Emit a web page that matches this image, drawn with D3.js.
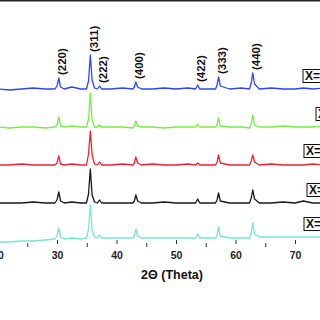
<!DOCTYPE html>
<html>
<head>
<meta charset="utf-8">
<script src="https://cdn.jsdelivr.net/npm/d3@7"></script>
<style>
  body { margin: 0; background: #fff; }
  svg { display: block; overflow: hidden; font-family: "Liberation Sans", Arial, sans-serif; }
</style>
</head>
<body>
<svg id="chart" width="320" height="320"></svg>
<script>
// 2-theta sample positions (degrees)
const twoTheta = [
  20, 22, 24, 26, 28, 29.65, 30.0, 30.3, 30.6, 31.2,
  32.5, 34, 34.95, 35.3, 35.6, 35.9, 36.3, 36.8, 37.15, 37.5,
  39, 41, 42.75, 43.0, 43.25, 43.55, 44.2, 46, 48, 50,
  52, 53.3, 53.65, 54.0, 55.5, 56.65, 56.9, 57.15, 57.45, 59,
  61, 62.35, 62.65, 62.9, 63.2, 64, 66, 68, 70, 71.4,
  73, 75, 77, 80
];

// intensities (a.u., stacked with offsets as in the figure), bottom to top
const sampleX0 = [
  2, 2, 3, 3, 4, 5, 8, 16, 7, 5,
  6, 5, 6, 15, 39, 14, 7, 6, 9, 6,
  6, 6, 6, 8, 15, 8, 6, 6, 6, 6,
  6, 6, 10, 6, 6, 6, 9, 17, 8, 6,
  6, 6, 11, 21, 10, 7, 7, 7, 7, 7,
  7, 7, 7, 7
];
const sampleX1 = [
  41, 41, 41, 42, 41, 41, 44, 52, 43, 41,
  42, 41, 41, 50, 75, 49, 42, 41, 44, 41,
  41, 41, 41, 43, 49, 43, 41, 41, 42, 41,
  41, 41, 45, 41, 41, 41, 44, 51, 43, 41,
  41, 41, 46, 54, 45, 41, 41, 42, 41, 43,
  41, 41, 42, 41
];
const sampleX2 = [
  79, 79, 80, 79, 79, 79, 81, 88, 80, 79,
  80, 79, 79, 90, 113, 89, 80, 79, 82, 79,
  79, 80, 79, 81, 87, 81, 79, 80, 79, 79,
  80, 79, 81, 79, 79, 79, 82, 89, 81, 79,
  79, 79, 83, 89, 82, 79, 80, 79, 79, 79,
  80, 79, 79, 80
];
const sampleX3 = [
  117, 116, 117, 117, 116, 117, 119, 127, 118, 117,
  118, 117, 117, 125, 151, 124, 117, 117, 119, 117,
  117, 117, 116, 118, 123, 118, 117, 117, 116, 117,
  117, 117, 120, 117, 117, 117, 119, 126, 118, 117,
  117, 116, 120, 129, 119, 117, 117, 118, 117, 117,
  117, 118, 117, 117
];
const sampleX4 = [
  155, 154, 155, 156, 155, 155, 158, 166, 157, 155,
  157, 155, 155, 163, 189, 164, 156, 155, 158, 155,
  155, 156, 155, 157, 162, 157, 155, 155, 156, 155,
  156, 155, 159, 155, 155, 155, 159, 167, 158, 155,
  156, 155, 161, 171, 160, 155, 156, 155, 155, 156,
  155, 156, 155, 155
];

const seriesNames = ["X=0.0", "X=0.1", "X=0.2", "X=0.3", "X=0.4"];
const seriesColors = ["#77e6cf", "#1a1a1a", "#ee2233", "#77ee44", "#3344ee"];
const seriesValues = [sampleX0, sampleX1, sampleX2, sampleX3, sampleX4];

// Miller indices and their peak angles
const hkl = ["(220)", "(311)", "(222)", "(400)", "(422)", "(333)", "(440)"];
const hklIndex = [7, 14, 18, 24, 32, 37, 43]; // index into twoTheta

const majorTicks = [20, 30, 40, 50, 60, 70, 80];
const minorTicks = [25, 35, 45, 55, 65, 75];

const svg = d3.select("#chart");

const x = d3.scaleLinear().domain([20, 80]).range([-2.5, 354.5]);
const y = d3.scaleLinear().domain([0, 243]).range([244, 1]);

// top frame line
svg.append("line")
  .attr("x1", 0).attr("x2", 320)
  .attr("y1", 0.75).attr("y2", 0.75)
  .attr("stroke", "#222").attr("stroke-width", 1.5);

// axes
const gx = svg.append("g")
  .attr("transform", "translate(0,244)")
  .call(d3.axisBottom(x).tickValues(majorTicks).tickSize(-4).tickPadding(8)
    .tickFormat(d3.format("d")));
gx.select(".domain").remove();
gx.selectAll("line").attr("stroke", "#333");
gx.selectAll("text")
  .attr("font-size", 10.5)
  .attr("font-weight", "bold")
  .attr("fill", "#222")
  .attr("font-family", "'Liberation Sans', Arial, sans-serif");

const gm = svg.append("g")
  .attr("transform", "translate(0,243)")
  .call(d3.axisBottom(x).tickValues(minorTicks).tickSize(4).tickFormat(""));
gm.select(".domain").remove();
gm.selectAll("line").attr("stroke", "#333");

svg.append("text")
  .attr("x", 172).attr("y", 279)
  .attr("text-anchor", "middle")
  .attr("font-size", 12.5)
  .attr("font-weight", "bold")
  .attr("fill", "#111")
  .text("2\u0398 (Theta)");

// traces
const line = d3.line()
  .x((d, i) => x(twoTheta[i]))
  .y(d => y(d));

svg.selectAll("path.trace")
  .data(seriesValues)
  .join("path")
  .attr("class", "trace")
  .attr("d", line)
  .attr("fill", "none")
  .attr("stroke", (d, i) => seriesColors[i])
  .attr("stroke-width", 1.3)
  .attr("stroke-linejoin", "round");

// hkl labels over the top trace
const topSeries = seriesValues[seriesValues.length - 1];
svg.selectAll("text.hkl")
  .data(hkl)
  .join("text")
  .attr("class", "hkl")
  .attr("transform", (d, i) =>
    `translate(${x(twoTheta[hklIndex[i]]) + 3.5},${y(topSeries[hklIndex[i]]) - 3}) rotate(-90)`)
  .attr("dy", "0.36em")
  .attr("font-size", 11.5)
  .attr("font-weight", "bold")
  .attr("fill", "#111")
  .text(d => d);

// sample boxes at right
const boxNudge = [1, 4, 1, 13, 0];
const labels = svg.selectAll("g.lab")
  .data(seriesNames)
  .join("g")
  .attr("class", "lab")
  .attr("transform", (d, i) => {
    const v = seriesValues[i];
    return `translate(${303 + boxNudge[i]},${y(v[v.length - 1]) - 13})`;
  });
labels.append("rect")
  .attr("x", 0).attr("y", -6.5)
  .attr("width", 44).attr("height", 13)
  .attr("fill", "#fff")
  .attr("stroke", "#111")
  .attr("stroke-width", 1);
labels.append("text")
  .attr("x", 2).attr("y", 0)
  .attr("dy", "0.36em")
  .attr("font-size", 12)
  .attr("font-weight", "bold")
  .attr("fill", "#111")
  .text(d => d);
</script>
</body>
</html>
